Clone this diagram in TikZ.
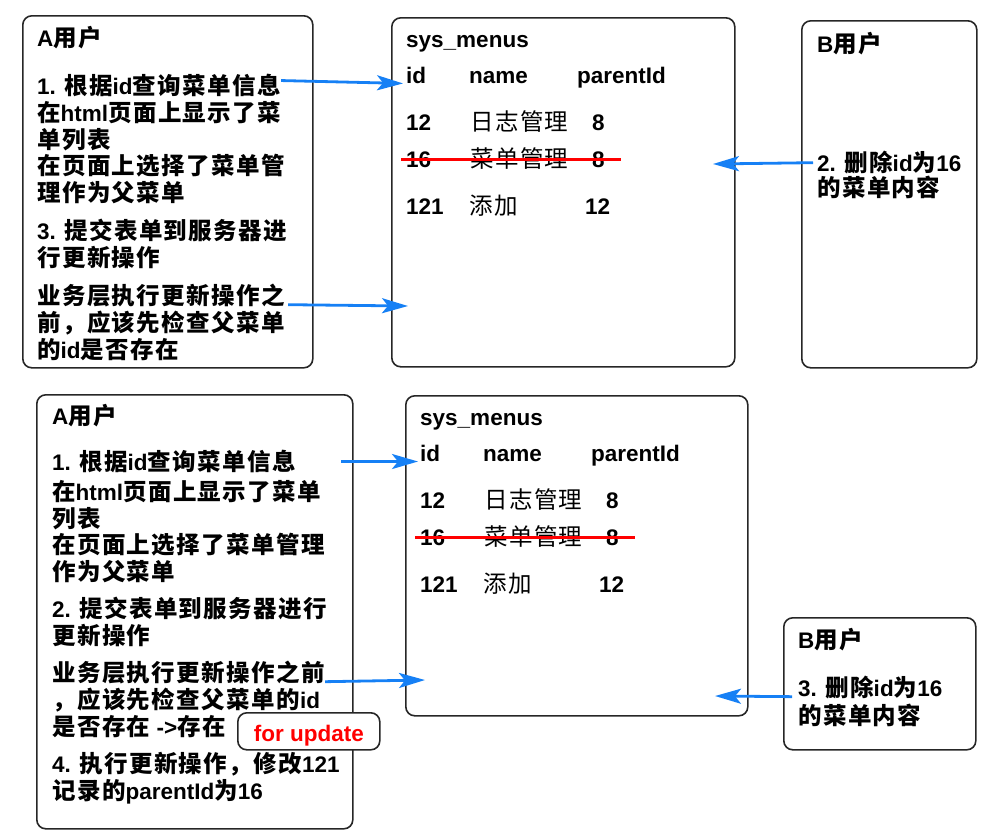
\documentclass[tikz,border=0pt]{standalone}
\usepackage{fontspec}
\setmainfont{Liberation Sans}
\newfontfamily\cjkfam{Noto Sans CJK SC}[Scale=1.045,LetterSpace=6]
\usetikzlibrary{arrows.meta,positioning}
\definecolor{arrblue}{RGB}{22,128,245}

% Chinese characters are set in Noto Sans CJK
\XeTeXinterchartokenstate=1
\newXeTeXintercharclass\cjkclass
\newcount\cjkcode
\cjkcode="4E00
\loop\XeTeXcharclass\cjkcode=\cjkclass
\ifnum\cjkcode<"9FFF \advance\cjkcode by 1 \repeat
\cjkcode="FF01
\loop\XeTeXcharclass\cjkcode=\cjkclass
\ifnum\cjkcode<"FF5E \advance\cjkcode by 1 \repeat
\newcommand\cjkfont{\cjkfam}
\XeTeXinterchartoks 0 \cjkclass = {\begingroup\cjkfont}
\XeTeXinterchartoks 4095 \cjkclass = {\begingroup\cjkfont}
\XeTeXinterchartoks \cjkclass 0 = {\endgroup}
\XeTeXinterchartoks \cjkclass 4095 = {\endgroup}

\newcommand\boxfont{\bfseries\fontsize{22.5}{26.8}\selectfont}
\newcommand\tabfont{\bfseries\fontsize{22.5}{27}\selectfont\renewcommand\cjkfont{\cjkfam\mdseries}}

\begin{document}
\begin{tikzpicture}[x=1pt,y=-1pt,
	box/.style={draw=black!85,line width=1.6pt,rounded corners=9pt,anchor=north west,inner sep=0pt},
	txt/.style={anchor=north west,inner sep=0pt,align=left,font=\boxfont},
	cell/.style={anchor=base west,inner sep=0pt,font=\tabfont},
	arr/.style={draw=arrblue,line width=2.8pt,-{Stealth[length=26pt,width=15pt,inset=6pt]}},
	strike/.style={draw=red,line width=2.6pt}]
	\useasboundingbox (0,0) rectangle (1000,839);
	
	% upper row
	\node[box,minimum width=290,minimum height=352] (A1) at (22,15) {};
	\node[box,minimum width=343,minimum height=349] (M1) at (391,17) {};
	\node[box,minimum width=175,minimum height=347] (B1) at (801,20) {};
	
	\node[txt] (a1h) at ([shift={(15,11)}]A1.north west) {A用户};
	\node[txt] (a1q) at ([shift={(15,59)}]A1.north west) {1. 根据id查询菜单信息};
	\node[txt] (a1r) at ([shift={(15,86)}]A1.north west) {在html页面上显示了菜\\单列表\\在页面上选择了菜单管\\理作为父菜单};
	\node[txt] (a1s) at ([shift={(15,204)}]A1.north west) {3. 提交表单到服务器进\\行更新操作};
	\node[txt] (a1c) at ([shift={(15,269)}]A1.north west) {业务层执行更新操作之};
	\node[txt] (a1d) at ([shift={(15,296)}]A1.north west) {前，应该先检查父菜单\\的id是否存在};
	
	\node[cell] (m1t) at ([shift={(15,30)}]M1.north west) {sys\_menus};
	\node[cell] (m1id) at ([shift={(15,66.5)}]M1.north west) {id};
	\node[cell] (m1name) at ([shift={(78,66.5)}]M1.north west) {name};
	\node[cell] (m1pid) at ([shift={(186,66.5)}]M1.north west) {parentId};
	\node[cell] (m1r1id) at ([shift={(15,113)}]M1.north west) {12};
	\node[cell] (m1r1name) at ([shift={(79,113)}]M1.north west) {日志管理};
	\node[cell] (m1r1pid) at ([shift={(201,113)}]M1.north west) {8};
	\node[cell] (m1r2id) at ([shift={(15,150)}]M1.north west) {16};
	\node[cell] (m1r2name) at ([shift={(79,150)}]M1.north west) {菜单管理};
	\node[cell] (m1r2pid) at ([shift={(201,150)}]M1.north west) {8};
	\node[cell] (m1r3id) at ([shift={(15,197)}]M1.north west) {121};
	\node[cell] (m1r3name) at ([shift={(78,197)}]M1.north west) {添加};
	\node[cell] (m1r3pid) at ([shift={(194,197)}]M1.north west) {12};
	\coordinate (m1in) at ([shift={(17,289)}]M1.north west);
	\coordinate (m1out) at ([shift={(322,147)}]M1.north west);
	
	\node[txt] (b1h) at ([shift={(16,12)}]B1.north west) {B用户};
	\node[txt] (b1q) at ([shift={(16,131)}]B1.north west) {2. 删除id为16};
	\node[txt] (b1r) at ([shift={(16,156)}]B1.north west) {的菜单内容};
	
	\draw[strike] ([xshift=-5pt]m1r2id.west) -- ([xshift=16pt]m1r2pid.east);
	\draw[arr,shorten >=3pt] ([yshift=5pt]a1q.east) -- (m1id.base west);
	\draw[arr] ([xshift=3pt]a1c.base east) -- (m1in);
	\draw[arr] ([xshift=-4pt]b1q.west) -- (m1out);
	
	% lower row
	\node[box,minimum width=316,minimum height=434] (A2) at (36,394) {};
	\node[box,minimum width=342,minimum height=320] (M2) at (405,395) {};
	\node[box,minimum width=192,minimum height=132] (B2) at (783,617) {};
	
	\node[txt] (a2h) at ([shift={(16,10)}]A2.north west) {A用户};
	\node[txt] (a2q) at ([shift={(16,56)}]A2.north west) {1. 根据id查询菜单信息};
	\node[txt] (a2r) at ([shift={(16,86)}]A2.north west) {在html页面上显示了菜单\\列表\\在页面上选择了菜单管理\\作为父菜单};
	\node[txt] (a2s) at ([shift={(16,203)}]A2.north west) {2. 提交表单到服务器进行\\更新操作};
	\node[txt] (a2c) at ([shift={(16,267)}]A2.north west) {业务层执行更新操作之前};
	\node[txt] (a2d) at ([shift={(16,294)}]A2.north west) {，应该先检查父菜单的id\\是否存在 ->存在};
	\node[txt] (a2e) at ([shift={(16,358)}]A2.north west) {4. 执行更新操作，修改121\\记录的parentId为16};
	
	\node[box,fill=white,minimum width=142,minimum height=37] (FU) at (237,712) {};
	\node[font=\boxfont,text=red,inner sep=0pt] (fu) at ([yshift=-4.5pt]FU.center) {for update};
	
	\node[cell] (m2t) at ([shift={(15,30)}]M2.north west) {sys\_menus};
	\node[cell] (m2id) at ([shift={(15,66.5)}]M2.north west) {id};
	\node[cell] (m2name) at ([shift={(78,66.5)}]M2.north west) {name};
	\node[cell] (m2pid) at ([shift={(186,66.5)}]M2.north west) {parentId};
	\node[cell] (m2r1id) at ([shift={(15,113)}]M2.north west) {12};
	\node[cell] (m2r1name) at ([shift={(79,113)}]M2.north west) {日志管理};
	\node[cell] (m2r1pid) at ([shift={(201,113)}]M2.north west) {8};
	\node[cell] (m2r2id) at ([shift={(15,150)}]M2.north west) {16};
	\node[cell] (m2r2name) at ([shift={(79,150)}]M2.north west) {菜单管理};
	\node[cell] (m2r2pid) at ([shift={(201,150)}]M2.north west) {8};
	\node[cell] (m2r3id) at ([shift={(15,197)}]M2.north west) {121};
	\node[cell] (m2r3name) at ([shift={(78,197)}]M2.north west) {添加};
	\node[cell] (m2r3pid) at ([shift={(194,197)}]M2.north west) {12};
	\coordinate (m2in) at ([shift={(20,285)}]M2.north west);
	\coordinate (m2out) at ([shift={(310,301)}]M2.north west);
	
	\node[txt] (b2h) at ([shift={(15,11)}]B2.north west) {B用户};
	\node[txt] (b2q) at ([shift={(15,59)}]B2.north west) {3. 删除id为16};
	\node[txt] (b2r) at ([shift={(15,87)}]B2.north west) {的菜单内容};
	
	\draw[strike] ([xshift=-5pt]m2r2id.west) -- ([xshift=16pt]m2r2pid.east);
	\draw[arr,shorten >=2pt] ([xshift=45pt]a2q.east) -- (m2id.base west);
	\draw[arr] (a2c.base east) -- (m2in);
	\draw[arr] ([xshift=-6pt]b2q.base west) -- (m2out);
\end{tikzpicture}
\end{document}
